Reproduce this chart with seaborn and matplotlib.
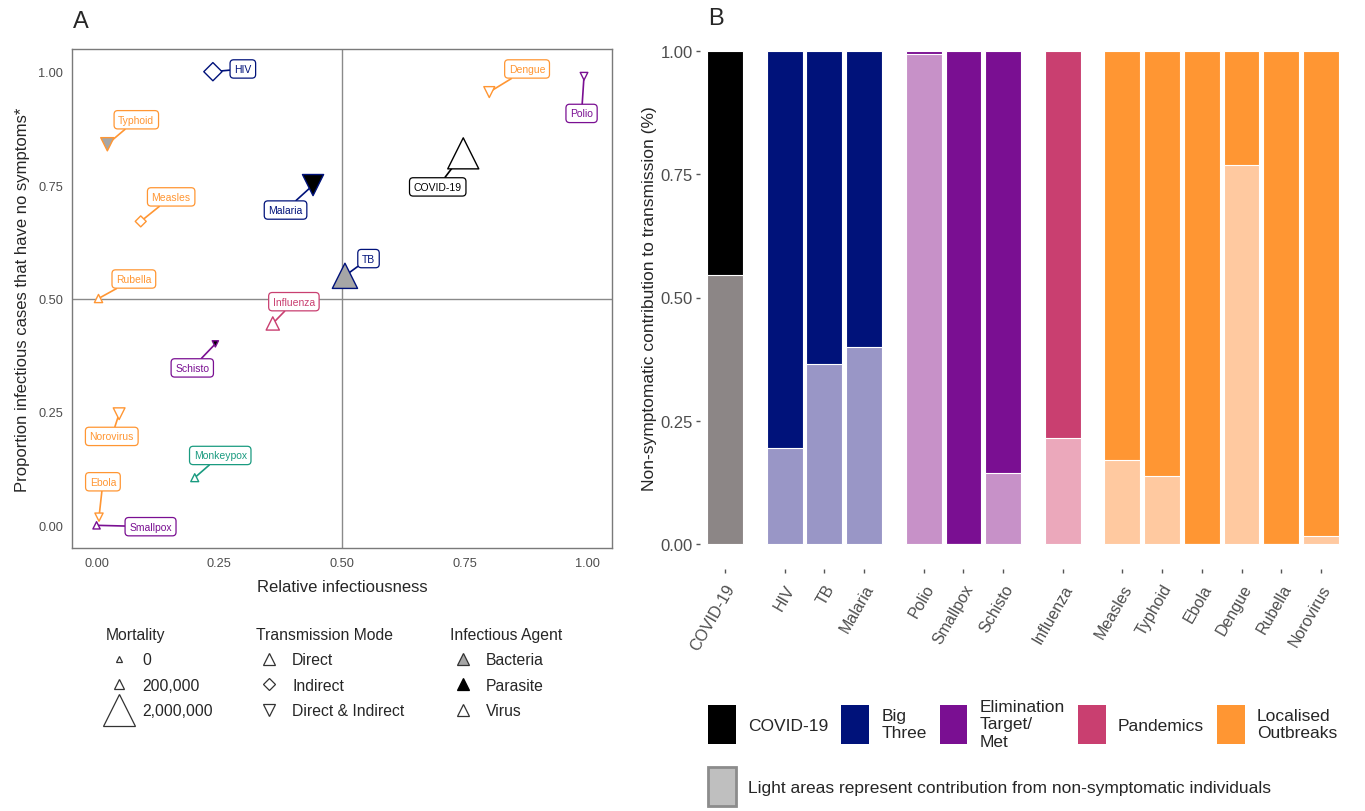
import matplotlib
matplotlib.use("Agg")
import matplotlib.pyplot as plt
from matplotlib.lines import Line2D
from matplotlib.patches import Patch
import seaborn as sns
import pandas as pd
import numpy as np

# ---------------- Panel A data ----------------
diseases = ["COVID-19", "HIV", "TB", "Malaria", "Typhoid", "Measles", "Rubella", "Dengue",
            "Polio", "Influenza", "Schisto", "Norovirus", "Monkeypox", "Ebola", "Smallpox"]
infectiousness = [0.747, 0.237, 0.506, 0.441, 0.022, 0.09, 0.004, 0.80,
                  0.993, 0.359, 0.242, 0.046, 0.20, 0.005, 0.0]
no_symptoms = [0.82, 1.00, 0.55, 0.75, 0.84, 0.67, 0.50, 0.955,
               0.99, 0.445, 0.40, 0.246, 0.105, 0.018, 0.0]
mortality = [2000000, 300000, 1300000, 900000, 320000, 75000, 90000, 200000,
             70000, 320000, 30000, 240000, 80000, 90000, 60000]
mode = ["Direct", "Indirect", "Direct", "Direct & Indirect", "Direct & Indirect", "Indirect",
        "Direct", "Direct & Indirect", "Direct & Indirect", "Direct", "Direct & Indirect",
        "Direct & Indirect", "Direct", "Direct & Indirect", "Direct"]
agent = ["Virus", "Virus", "Bacteria", "Parasite", "Bacteria", "Virus", "Virus", "Virus",
         "Virus", "Virus", "Parasite", "Virus", "Virus", "Virus", "Virus"]
group = ["COVID-19", "Big Three", "Big Three", "Big Three", "Localised Outbreaks",
         "Localised Outbreaks", "Localised Outbreaks", "Localised Outbreaks", "Elimination",
         "Pandemics", "Elimination", "Localised Outbreaks", "Monkeypox", "Localised Outbreaks",
         "Elimination"]
# where the label boxes sit (repelled labels)
label_x = [0.695, 0.298, 0.554, 0.385, 0.081, 0.152, 0.076, 0.877,
           0.988, 0.402, 0.195, 0.031, 0.252, 0.013, 0.11]
label_y = [0.746, 1.006, 0.588, 0.695, 0.894, 0.724, 0.543, 1.006,
           0.908, 0.493, 0.347, 0.196, 0.154, 0.096, -0.003]

# ---------------- Panel B data ----------------
bar_names = ["COVID-19", "HIV", "TB", "Malaria", "Polio", "Smallpox", "Schisto", "Influenza",
             "Measles", "Typhoid", "Ebola", "Dengue", "Rubella", "Norovirus"]
bar_group = ["COVID-19", "Big Three", "Big Three", "Big Three", "Elimination", "Elimination",
             "Elimination", "Pandemics", "Localised Outbreaks", "Localised Outbreaks",
             "Localised Outbreaks", "Localised Outbreaks", "Localised Outbreaks",
             "Localised Outbreaks"]
non_symptomatic = [0.545, 0.195, 0.365, 0.399, 0.994, 0.0, 0.144, 0.215,
                   0.170, 0.137, 0.0, 0.769, 0.0, 0.017]

dark = {"COVID-19": "#000000", "Big Three": "#00127a", "Elimination": "#7a0f92",
        "Pandemics": "#c93f70", "Localised Outbreaks": "#ff9633", "Monkeypox": "#1a9b80"}
light = {"COVID-19": "#8c8686", "Big Three": "#9996c6", "Elimination": "#c791c8",
         "Pandemics": "#eba8bb", "Localised Outbreaks": "#ffc9a0"}
agent_fill = {"Bacteria": "#a6a6a6", "Parasite": "#000000", "Virus": "#ffffff"}
markers = {"Direct": "^", "Indirect": "D", "Direct & Indirect": "v"}
SIZES = (13, 500)
SIZE_NORM = (0, 2000000)


def area(m):
    return SIZES[0] + (SIZES[1] - SIZES[0]) * m / SIZE_NORM[1]


sns.set_style("white")
plt.rcParams["font.family"] = ["Liberation Sans", "DejaVu Sans"]
grey_txt = "#4d4d4d"

fig = plt.figure(figsize=(13.65, 8.12), dpi=100)
W, H = 1365, 812
axA = fig.add_axes([72 / W, 1 - 549 / H, (612 - 72) / W, (549 - 50) / H])
axB = fig.add_axes([700 / W, 1 - 570 / H, (1346 - 700) / W, (570 - 27) / H])

# ---------------- Panel A ----------------
dfa = pd.DataFrame({"disease": diseases, "x": infectiousness, "y": no_symptoms,
                    "mortality": mortality, "mode": mode, "agent": agent, "group": group})
axA.axvline(0.5, color="#8a8a8a", lw=1, zorder=0)
axA.axhline(0.5, color="#8a8a8a", lw=1, zorder=0)

for i, r in dfa.iterrows():
    c = dark[r["group"]]
    axA.annotate(r["disease"], xy=(r["x"], r["y"]), xytext=(label_x[i], label_y[i]),
                 textcoords="data", ha="center", va="center", fontsize=7.5, color=c, zorder=3,
                 bbox=dict(boxstyle="round,pad=0.4,rounding_size=0.35", fc="white", ec=c, lw=0.9),
                 arrowprops=dict(arrowstyle="-", color=c, lw=1.2, shrinkA=0, shrinkB=0))

sns.scatterplot(data=dfa, x="x", y="y", style="mode", markers=markers, size="mortality",
                sizes=SIZES, size_norm=SIZE_NORM, legend=False, ax=axA, zorder=4,
                facecolor=[agent_fill[a] for a in dfa["agent"]],
                edgecolor=[dark[g] for g in dfa["group"]], linewidth=1.0)

axA.set_xlim(-0.05, 1.05)
axA.set_ylim(-0.05, 1.05)
ticks = [0, 0.25, 0.5, 0.75, 1.0]
tick_lbl = ["0.00", "0.25", "0.50", "0.75", "1.00"]
axA.set_xticks(ticks, tick_lbl)
axA.set_yticks(ticks, tick_lbl)
axA.tick_params(length=3.5, width=1, color="#555555", labelsize=9.2, labelcolor=grey_txt, pad=3)
for s in axA.spines.values():
    s.set_color("#7a7a7a")
    s.set_linewidth(1)
axA.set_xlabel("Relative infectiousness", fontsize=12, labelpad=7)
axA.set_ylabel("Proportion infectious cases that have no symptoms*", fontsize=12, labelpad=6)

# ---------------- Panel B ----------------
pos = []
p = -1.0
for i, g in enumerate(bar_group):
    p += 1.0 if i > 0 and bar_group[i - 1] == g else (1.5 if i > 0 else 1.0)
    pos.append(p)
dfb = pd.DataFrame({"disease": bar_names, "group": bar_group, "light": non_symptomatic,
                    "pos": pos})
dfb["total"] = 1.0

sns.barplot(data=dfb, x="pos", y="total", hue="group", palette=dark, native_scale=True,
            dodge=False, width=0.9, errorbar=None, legend=False, edgecolor="white",
            linewidth=0.8, saturation=1, ax=axB)
sns.barplot(data=dfb, x="pos", y="light", hue="group", palette=light, native_scale=True,
            dodge=False, width=0.9, errorbar=None, legend=False, edgecolor="white",
            linewidth=0.8, saturation=1, ax=axB)

axB.set_xlim(-0.63, 15.63)
axB.set_ylim(-0.0507, 1.0507)
axB.set_xticks(pos, bar_names, rotation=60, ha="right", rotation_mode="anchor")
axB.set_yticks(ticks, tick_lbl)
axB.tick_params(axis="both", length=3, width=1, color="#555555", labelcolor=grey_txt,
                left=True, bottom=True)
axB.tick_params(axis="y", labelsize=12, pad=2)
axB.tick_params(axis="x", labelsize=11.5, pad=6)
for s in axB.spines.values():
    s.set_visible(False)
axB.set_xlabel("")
axB.set_ylabel("Non-symptomatic contribution to transmission (%)", fontsize=12.5, labelpad=3)

# ---------------- Legends ----------------
common = dict(loc="upper left", frameon=False, fontsize=11.3, title_fontsize=11.3,
              handlelength=1.6, handletextpad=0.7, labelspacing=0.66, borderpad=0,
              borderaxespad=0)
mort_levels = [0, 200000, 2000000]
h1 = [Line2D([], [], ls="none", marker="^", markersize=np.sqrt(area(m)), mfc="white",
             mec="#333333", mew=0.9) for m in mort_levels]
l1 = fig.legend(handles=h1, labels=["0", "200,000", "2,000,000"], title="Mortality",
                bbox_to_anchor=(106 / W, 1 - 628 / H), **common)
h2 = [Line2D([], [], ls="none", marker=markers[k], markersize=6 if k == "Indirect" else 8,
             mfc="white", mec="#333333", mew=0.9) for k in markers]
l2 = fig.legend(handles=h2, labels=list(markers), title="Transmission Mode",
                bbox_to_anchor=(256 / W, 1 - 628 / H), **common)
h3 = [Line2D([], [], ls="none", marker="^", markersize=8, mfc=agent_fill[a],
             mec="#333333" if a != "Parasite" else "#000000", mew=0.9) for a in agent_fill]
l3 = fig.legend(handles=h3, labels=list(agent_fill), title="Infectious Agent",
                bbox_to_anchor=(450 / W, 1 - 628 / H), **common)
for lg in (l1, l2, l3):
    lg._legend_box.align = "left"

groups = ["COVID-19", "Big Three", "Elimination", "Pandemics", "Localised Outbreaks"]
group_labels = ["COVID-19", "Big\nThree", "Elimination\nTarget/\nMet", "Pandemics",
                "Localised\nOutbreaks"]
hb = [Patch(facecolor=dark[g], edgecolor="none") for g in groups]
fig.legend(handles=hb, labels=group_labels, ncol=5, loc="upper left",
           bbox_to_anchor=(708 / W, 1 - 700 / H), frameon=False, fontsize=12.5,
           handlelength=1.6, handleheight=3.1, handletextpad=0.7, columnspacing=0.75,
           borderpad=0, borderaxespad=0)
fig.legend(handles=[Patch(facecolor="#bfbfbf", edgecolor="#8c8c8c", linewidth=2)],
           labels=["Light areas represent contribution from non-symptomatic individuals"],
           loc="upper left", bbox_to_anchor=(708 / W, 1 - 768 / H), frameon=False,
           fontsize=12.5, handlelength=1.6, handleheight=3.1, handletextpad=0.7,
           borderpad=0, borderaxespad=0)

fig.text(73 / W, 1 - 22 / H, "A", fontsize=17, va="center", ha="left")
fig.text(708 / W, 1 - 19 / H, "B", fontsize=17, va="center", ha="left")

fig.savefig("out.png", dpi=100)
